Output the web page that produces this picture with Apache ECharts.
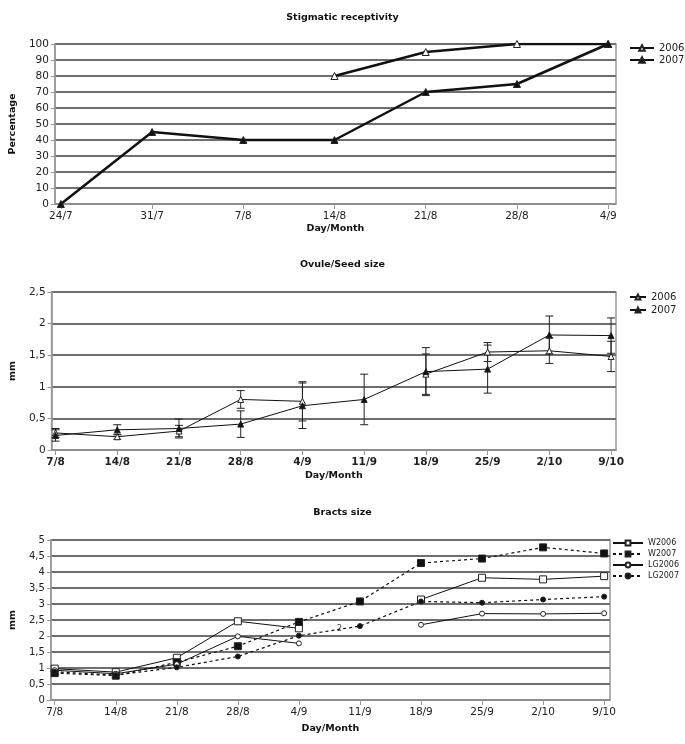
<!DOCTYPE html>
<html><head><meta charset="utf-8">
<script src="https://cdn.jsdelivr.net/npm/echarts@6/dist/echarts.min.js"></script>
<style>html,body{margin:0;padding:0;background:#fff}#c{width:685px;height:744px}</style>
</head><body><div id="c"></div>
<script>
// ---- Data ----
const stigCats = ['24/7','31/7','7/8','14/8','21/8','28/8','4/9'];
const stig2006 = [null,null,null,80,95,100,100];
const stig2007 = [0,45,40,40,70,75,100];

const ovuleCats = ['7/8','14/8','21/8','28/8','4/9','11/9','18/9','25/9','2/10','9/10'];
const ovule2006 = [0.27,0.21,0.30,0.80,0.77,null,1.20,1.55,1.57,1.48];
const ovule2006Err = [0.07,0.04,0.09,0.14,0.31,null,0.32,0.15,0.20,0.24];
const ovule2007 = [0.23,0.32,0.34,0.41,0.70,0.80,1.24,1.28,1.82,1.81];
const ovule2007Err = [0.09,0.08,0.15,0.21,0.36,0.40,0.38,0.38,0.30,0.28];

const bractCats = ['7/8','14/8','21/8','28/8','4/9','11/9','18/9','25/9','2/10','9/10'];
const bractW2006 = [0.98,0.87,1.32,2.46,2.24,null,3.14,3.82,3.77,3.87];
const bractW2007 = [0.84,0.76,1.18,1.68,2.44,3.08,4.28,4.42,4.77,4.58];
const bractLG2006 = [0.93,0.82,1.12,1.99,1.77,null,2.35,2.70,2.69,2.71];
const bractLG2007 = [0.88,0.78,1.02,1.36,2.01,2.31,3.08,3.04,3.14,3.23];

// ---- Helpers ----
const FONT = 'DejaVu Sans';
const idx = a => a.map((_, i) => i);
const pairs = a => a.map((v, i) => [i, v]);
const errData = (vals, errs) => vals.map((v, i) => v == null ? null : [i, v - errs[i], v + errs[i]]).filter(d => d);
const comma = v => String(v).replace('.', ',');

function xAxis(gi, cats, min, max, bold, nameGap) {
  return {
    type: 'value', gridIndex: gi, min: min, max: max,
    name: 'Day/Month', nameLocation: 'middle', nameGap: nameGap,
    nameTextStyle: {fontFamily: FONT, fontWeight: 'bold', fontSize: 9.5, color: '#111'},
    axisLine: {show: true, onZero: false, lineStyle: {color: '#999', width: 1.5}},
    axisTick: {show: true, customValues: idx(cats), length: 5, lineStyle: {color: '#999'}},
    axisLabel: {customValues: idx(cats), formatter: v => cats[Math.round(v)], fontFamily: FONT,
      fontSize: 10.5, fontWeight: bold ? 'bold' : 'normal', color: '#222', margin: 7},
    splitLine: {show: false}
  };
}
function yAxis(gi, min, max, interval, name, nameGap, fs) {
  return {
    type: 'value', gridIndex: gi, min: min, max: max, interval: interval,
    name: name, nameLocation: 'middle', nameRotate: 90, nameGap: nameGap,
    nameTextStyle: {fontFamily: FONT, fontWeight: 'bold', fontSize: 9.5, color: '#111'},
    axisLine: {show: true, onZero: false, lineStyle: {color: '#999', width: 1.5}},
    axisTick: {show: true, length: 4, lineStyle: {color: '#999'}},
    axisLabel: {formatter: comma, fontFamily: FONT, fontSize: fs, color: '#222', margin: 6},
    splitLine: {show: true, lineStyle: {color: '#6e6e6e', width: 2}}
  };
}
function errSeries(name, vals, errs) {
  return {
    type: 'custom', name: name, xAxisIndex: 1, yAxisIndex: 1, silent: true, z: 1,
    data: errData(vals, errs),
    renderItem: function (params, api) {
      const x = api.value(0);
      const lo = api.coord([x, api.value(1)]);
      const hi = api.coord([x, api.value(2)]);
      const w = 4;
      const st = {stroke: '#222', lineWidth: 1};
      return {type: 'group', children: [
        {type: 'line', shape: {x1: lo[0], y1: lo[1], x2: hi[0], y2: hi[1]}, style: st},
        {type: 'line', shape: {x1: lo[0]-w, y1: lo[1], x2: lo[0]+w, y2: lo[1]}, style: st},
        {type: 'line', shape: {x1: hi[0]-w, y1: hi[1], x2: hi[0]+w, y2: hi[1]}, style: st}
      ]};
    }
  };
}
function lineSeries(name, gi, vals, symbol, size, filled, width, dashed) {
  return {
    type: 'line', name: name, xAxisIndex: gi, yAxisIndex: gi, data: pairs(vals),
    symbol: symbol, symbolSize: size, showSymbol: true, connectNulls: false, z: 3,
    lineStyle: {color: '#111', width: width, type: dashed ? [3, 3] : 'solid'},
    itemStyle: {color: filled ? '#111' : '#fff', borderColor: '#222', borderWidth: 1},
    emphasis: {disabled: true}
  };
}

const chart = echarts.init(document.getElementById('c'), null, {renderer: 'canvas'});
const titleStyle = {fontFamily: FONT, fontWeight: 'bold', fontSize: 9.5, color: '#111'};
const legendBase = {orient: 'vertical', padding: 0, textStyle: {fontFamily: FONT, fontSize: 10, color: '#222'},
  formatter: n => n.split(':')[1], selectedMode: false, itemGap: 5};

chart.setOption({
  animation: false,
  backgroundColor: '#fff',
  title: [
    {text: 'Stigmatic receptivity', left: 'center', top: 8, textStyle: titleStyle},
    {text: 'Ovule/Seed size', left: 'center', top: 255, textStyle: titleStyle},
    {text: 'Bracts size', left: 'center', top: 503, textStyle: titleStyle}
  ],
  grid: [
    {left: 46, top: 44, width: 570, height: 160, show: true, borderColor: '#999', borderWidth: 1.5},
    {left: 46, top: 292, width: 570, height: 158, show: true, borderColor: '#999', borderWidth: 1.5},
    {left: 37, top: 540, width: 573, height: 160, show: true, borderColor: '#999', borderWidth: 1.5}
  ],
  xAxis: [
    xAxis(0, stigCats, -0.065, 6.086, false, 20),
    xAxis(1, ovuleCats, -0.064, 9.08, true, 21),
    xAxis(2, bractCats, -0.064, 9.096, false, 24)
  ],
  yAxis: [
    yAxis(0, 0, 100, 10, 'Percentage', 33, 10.5),
    yAxis(1, 0, 2.5, 0.5, 'mm', 32, 10.5),
    yAxis(2, 0, 5, 0.5, 'mm', 29, 10)
  ],
  legend: [
    Object.assign({}, legendBase, {left: 629, top: 43, itemWidth: 24, itemHeight: 7, itemGap: 2, data: ['a:2006', 'a:2007']}),
    Object.assign({}, legendBase, {left: 629, top: 292, itemWidth: 16, itemHeight: 6, itemGap: 3, data: ['b:2006', 'b:2007']}),
    Object.assign({}, legendBase, {left: 612, top: 539, itemWidth: 30, itemHeight: 6, itemGap: 3,
      textStyle: {fontFamily: FONT, fontSize: 8, color: '#222'},
      data: ['c:W2006', 'c:W2007', 'c:LG2006', 'c:LG2007']})
  ],
  graphic: [
    {type: 'text', left: 337, top: 625, style: {text: '2', font: '8px "DejaVu Sans"', fill: '#444'}}
  ],
  series: [
    lineSeries('a:2006', 0, stig2006, 'triangle', 7, false, 2.5, false),
    lineSeries('a:2007', 0, stig2007, 'triangle', 7, true, 2.5, false),
    errSeries('err2006', ovule2006, ovule2006Err),
    errSeries('err2007', ovule2007, ovule2007Err),
    lineSeries('b:2006', 1, ovule2006, 'triangle', 6, false, 1, false),
    lineSeries('b:2007', 1, ovule2007, 'triangle', 6, true, 1, false),
    lineSeries('c:W2006', 2, bractW2006, 'rect', 7, false, 1, false),
    lineSeries('c:W2007', 2, bractW2007, 'rect', 7, true, 1.2, true),
    lineSeries('c:LG2006', 2, bractLG2006, 'circle', 5, false, 1, false),
    lineSeries('c:LG2007', 2, bractLG2007, 'circle', 5, true, 1.2, true)
  ]
});
</script></body></html>
